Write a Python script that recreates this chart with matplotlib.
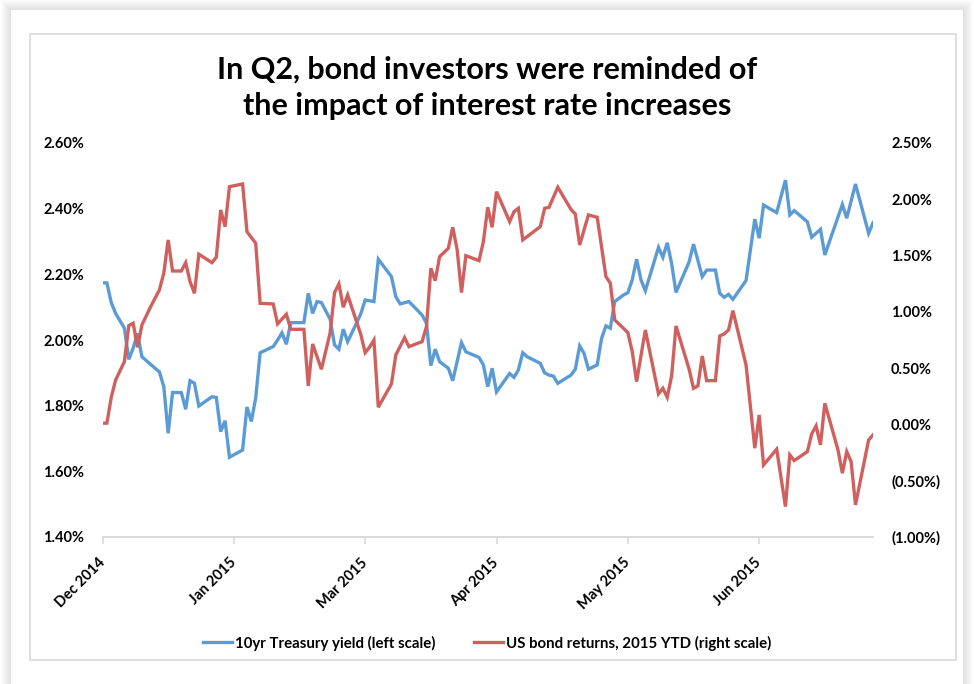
import matplotlib
matplotlib.use("Agg")
import matplotlib.pyplot as plt
from matplotlib.patches import Rectangle
from matplotlib.ticker import FuncFormatter, MultipleLocator

plt.rcParams['font.family'] = ['Lato', 'DejaVu Sans']

# trading-day offsets from the first point, and the values
yield_days = [0, 1, 2, 3, 5, 6, 7, 8, 9, 12, 13, 14, 15, 16, 18, 19, 20, 21, 22, 25,
              26, 27, 28, 29, 32, 33, 34, 35, 36, 39, 40, 41, 42, 43, 46, 47, 48, 49, 50, 52,
              53, 54, 55, 56, 58, 59, 60, 62, 63, 66, 67, 68, 70, 73, 74, 75, 76, 77, 79, 80,
              82, 83, 86, 87, 88, 89, 90, 93, 94, 95, 96, 97, 100, 101, 102, 103, 104, 107, 108, 109,
              110, 111, 113, 114, 115, 116, 117, 119, 120, 121, 122, 123, 124, 127, 128, 129, 130, 131, 134, 135,
              137, 138, 140, 141, 142, 143, 144, 147, 149, 150, 151, 154, 156, 157, 158, 161, 162, 164, 165, 169,
              170, 172, 175, 176]
treasury_yield = [2.174, 2.174, 2.114, 2.081, 2.036, 1.941, 1.975, 2.020, 1.949, 1.914, 1.903, 1.858, 1.716, 1.840, 1.840, 1.789, 1.876, 1.868, 1.799, 1.827,
                  1.825, 1.721, 1.754, 1.643, 1.665, 1.796, 1.752, 1.824, 1.961, 1.980, 2.000, 2.022, 1.987, 2.053, 2.053, 2.142, 2.081, 2.117, 2.114, 2.063,
                  1.985, 1.972, 2.033, 1.995, 2.051, 2.080, 2.122, 2.117, 2.246, 2.193, 2.132, 2.110, 2.117, 2.076, 2.051, 1.922, 1.972, 1.934, 1.914, 1.876,
                  1.992, 1.964, 1.947, 1.924, 1.858, 1.914, 1.842, 1.898, 1.886, 1.909, 1.961, 1.949, 1.929, 1.900, 1.893, 1.890, 1.868, 1.893, 1.911, 1.982,
                  1.959, 1.911, 1.924, 2.005, 2.043, 2.036, 2.117, 2.137, 2.144, 2.183, 2.246, 2.183, 2.150, 2.282, 2.252, 2.296, 2.233, 2.145, 2.238, 2.292,
                  2.193, 2.213, 2.213, 2.142, 2.130, 2.139, 2.124, 2.181, 2.368, 2.310, 2.411, 2.388, 2.487, 2.381, 2.394, 2.360, 2.313, 2.337, 2.259, 2.413,
                  2.371, 2.475, 2.325, 2.357]

return_days = [0, 1, 2, 3, 5, 6, 7, 8, 9, 11, 13, 14, 15, 16, 18, 19, 20, 21, 22, 25,
               26, 27, 28, 29, 32, 33, 35, 36, 39, 40, 42, 43, 46, 47, 48, 50, 52, 53, 54, 55,
               56, 59, 60, 61, 62, 63, 66, 67, 69, 70, 73, 74, 75, 76, 77, 79, 80, 81, 82, 83,
               86, 87, 88, 89, 90, 93, 94, 95, 96, 100, 101, 102, 104, 107, 108, 109, 111, 113, 115, 116,
               117, 119, 120, 121, 122, 124, 127, 128, 129, 130, 131, 134, 135, 136, 137, 138, 140, 141, 142, 143,
               144, 147, 149, 150, 151, 154, 156, 157, 158, 161, 162, 163, 164, 165, 168, 169, 170, 171, 172, 175,
               176]
bond_return = [0.011, 0.011, 0.241, 0.395, 0.558, 0.878, 0.899, 0.685, 0.884, 1.046, 1.195, 1.343, 1.639, 1.363, 1.363, 1.437, 1.268, 1.165, 1.512, 1.437,
               1.485, 1.905, 1.757, 2.112, 2.136, 1.712, 1.609, 1.076, 1.070, 0.893, 0.979, 0.845, 0.845, 0.342, 0.715, 0.490, 0.815, 1.171, 1.248, 1.041,
               1.150, 0.800, 0.638, 0.686, 0.750, 0.153, 0.360, 0.617, 0.771, 0.691, 0.735, 0.869, 1.387, 1.277, 1.490, 1.565, 1.751, 1.556, 1.171, 1.499,
               1.455, 1.623, 1.929, 1.751, 2.068, 1.801, 1.890, 1.920, 1.639, 1.757, 1.920, 1.929, 2.107, 1.911, 1.869, 1.594, 1.861, 1.840, 1.313, 1.254,
               0.928, 0.854, 0.815, 0.647, 0.380, 0.839, 0.271, 0.321, 0.241, 0.431, 0.875, 0.490, 0.321, 0.342, 0.608, 0.389, 0.389, 0.786, 0.804, 0.839,
               1.011, 0.528, -0.211, 0.084, -0.360, -0.220, -0.730, -0.271, -0.321, -0.242, -0.084, -0.013, -0.182, 0.188, -0.226, -0.433, -0.242, -0.330, -0.715, -0.138,
               -0.093]

tick_days = [0, 30, 60, 90, 120, 150]
tick_labels = ['Dec 2014', 'Jan 2015', 'Mar 2015', 'Apr 2015', 'May 2015', 'Jun 2015']

blue = '#5b9bd5'
red = '#d0605e'

fig = plt.figure(figsize=(9.74, 6.84), dpi=100)

# background: card with a soft shadow and a thin inner frame
bg = fig.add_axes([0, 0, 1, 1], zorder=0)
bg.set_xlim(0, 974)
bg.set_ylim(684, 0)
bg.axis('off')
for i in range(1, 11):
    bg.add_patch(Rectangle((11 - i, 10 - i), 952 + 2 * i, 700, facecolor='#000000',
                           alpha=0.013, edgecolor='none'))
bg.add_patch(Rectangle((11, 10), 952, 700, facecolor='white', edgecolor='none'))
bg.add_patch(Rectangle((30, 34), 926, 626, facecolor='none', edgecolor='#d9d9d9', lw=1.2))

ax = fig.add_axes([102.5 / 974, 1 - 537 / 684, (873 - 102.5) / 974, (537 - 143) / 684], zorder=2)
ax.patch.set_alpha(0)
ax2 = ax.twinx()

l1, = ax.plot(yield_days, treasury_yield, color=blue, lw=2.4, solid_joinstyle='miter',
              label='10yr Treasury yield (left scale)')
l2, = ax2.plot(return_days, bond_return, color=red, lw=2.4, solid_joinstyle='miter',
               label='US bond returns, 2015 YTD (right scale)')

ax.set_xlim(0, 176)
ax.set_ylim(1.40, 2.60)
ax.yaxis.set_major_locator(MultipleLocator(0.2))
ax.yaxis.set_major_formatter(FuncFormatter(lambda v, p: '%.2f%%' % v))
ax2.set_ylim(-1.0, 2.5)
ax2.yaxis.set_major_locator(MultipleLocator(0.5))
ax2.yaxis.set_major_formatter(FuncFormatter(
    lambda v, p: '(%.2f%%)' % abs(v) if v < -1e-9 else '%.2f%%' % abs(v)))

for a in (ax, ax2):
    for s in ('top', 'left', 'right'):
        a.spines[s].set_visible(False)
    a.spines['bottom'].set_color('#d9d9d9')
    a.spines['bottom'].set_linewidth(1.2)
    a.tick_params(axis='y', length=0, labelsize=10.5, pad=13)
    for t in a.get_yticklabels():
        t.set_fontweight('bold')

ax.set_xticks(tick_days)
ax.set_xticklabels(tick_labels, rotation=45, ha='right', va='center', rotation_mode='anchor',
                   fontsize=10.5, fontweight='bold')
ax.tick_params(axis='x', length=5, color='#d9d9d9', width=1.2, pad=12)

fig.text(0.5, 1 - 88 / 684, 'In Q2, bond investors were reminded of\nthe impact of interest rate increases',
         ha='center', va='center', fontsize=22, fontweight='bold', linespacing=1.38)

fig.legend(handles=[l1, l2], loc='center', bbox_to_anchor=(0.5, 1 - 643 / 684), ncol=2,
           frameon=False, prop={'size': 10.8, 'weight': 'bold'}, handlelength=1.9,
           handletextpad=0.2, columnspacing=2.6)

fig.savefig('out.png', dpi=100)
